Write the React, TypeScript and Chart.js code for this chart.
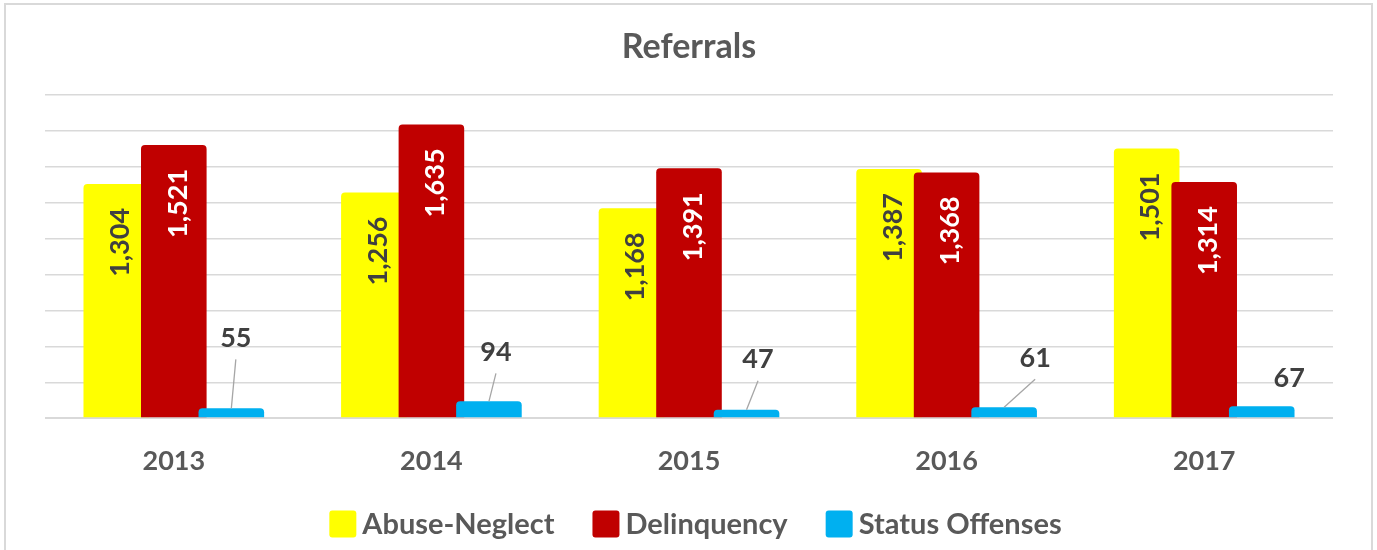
import React, { useEffect, useRef } from "react";
import { Chart, registerables } from "chart.js";

Chart.register(...registerables);

// ---- data ----
const categories = ["2013", "2014", "2015", "2016", "2017"];
const seriesNames = ["Abuse-Neglect", "Delinquency", "Status Offenses"];
const abuseNeglect = [1304, 1256, 1168, 1387, 1501];
const delinquency = [1521, 1635, 1391, 1368, 1314];
const statusOffenses = [55, 94, 47, 61, 67];
const yMax = 1800;
const yStep = 200;

// ---- style ----
const FONT = "Lato, 'Open Sans', sans-serif";
const colors = ["#FFFF00", "#C00000", "#00B0F0"];
const textGrey = "#595959";
const labelDark = "#404040";
// placement of the small "Status Offenses" labels relative to the bar top (dx, dy)
const statusLabelOffsets = [
  [4.5, -70],
  [7, -49],
  [11.5, -50],
  [31, -49],
  [27.5, -28],
];
const legendStyle = { centerShift: 7, y: 524, box: 27, boxGap: 6, itemGap: 38, fontSize: 29 };

const fmt = (v: number) => v.toLocaleString("en-US");

const drawPlugin = {
  id: "orderedDrawAndLabels",
  beforeDatasetsDraw(chart: any) {
    const metas = chart.getSortedVisibleDatasetMetas();
    for (const m of metas) m.controller.draw();
    return false;
  },
  afterDraw(chart: any) {
    const ctx = chart.ctx;
    const yScale = chart.scales.y;
    const area = chart.chartArea;
    ctx.save();
    // zero line over the bars
    const y0 = yScale.getPixelForValue(0);
    ctx.strokeStyle = "#d9d9d9";
    ctx.lineWidth = 1.5;
    ctx.beginPath();
    ctx.moveTo(area.left, y0);
    ctx.lineTo(area.right, y0);
    ctx.stroke();

    // rotated labels inside tall bars
    [0, 1].forEach((di) => {
      const meta = chart.getDatasetMeta(di);
      const values = chart.data.datasets[di].data as number[];
      meta.data.forEach((bar: any, i: number) => {
        const { x, y } = bar.getProps(["x", "y"], true);
        ctx.save();
        ctx.translate(x + 4, y + 24);
        ctx.rotate(-Math.PI / 2);
        ctx.font = `bold 27px ${FONT}`;
        ctx.fillStyle = di === 0 ? labelDark : "#ffffff";
        ctx.textAlign = "right";
        ctx.textBaseline = "middle";
        ctx.fillText(fmt(values[i]), 0, 0);
        ctx.restore();
      });
    });

    // status offenses labels with leader lines
    const meta = chart.getDatasetMeta(2);
    const values = chart.data.datasets[2].data as number[];
    meta.data.forEach((bar: any, i: number) => {
      const { x, y } = bar.getProps(["x", "y"], true);
      const [dx, dy] = statusLabelOffsets[i];
      const lx = x + dx;
      const ly = y + dy;
      if (dy < -35) {
        ctx.strokeStyle = "#a6a6a6";
        ctx.lineWidth = 1.3;
        ctx.beginPath();
        ctx.moveTo(lx, ly + 21);
        ctx.lineTo(x, y);
        ctx.stroke();
      }
      ctx.font = `bold 27px ${FONT}`;
      ctx.fillStyle = labelDark;
      ctx.textAlign = "center";
      ctx.textBaseline = "middle";
      ctx.fillText(fmt(values[i]), lx, ly);
    });

    // legend
    const ls = legendStyle;
    ctx.font = `bold ${ls.fontSize}px ${FONT}`;
    const items = chart.data.datasets.map((d: any) => ({
      text: d.label as string,
      color: d.backgroundColor as string,
      w: ctx.measureText(d.label).width,
    }));
    const total =
      items.reduce((s: number, it: any) => s + ls.box + ls.boxGap + it.w, 0) +
      ls.itemGap * (items.length - 1);
    let x = chart.width / 2 + ls.centerShift - total / 2;
    items.forEach((it: any) => {
      ctx.fillStyle = it.color;
      ctx.beginPath();
      ctx.roundRect(x, ls.y - ls.box / 2, ls.box, ls.box, 3);
      ctx.fill();
      x += ls.box + ls.boxGap;
      ctx.fillStyle = textGrey;
      ctx.textAlign = "left";
      ctx.textBaseline = "middle";
      ctx.fillText(it.text, x, ls.y + 1);
      x += it.w + ls.itemGap;
    });
    ctx.restore();
  },
};

export default function App() {
  const canvasRef = useRef<HTMLCanvasElement | null>(null);

  useEffect(() => {
    if (!canvasRef.current) return;
    const seriesData = [abuseNeglect, delinquency, statusOffenses];
    const chart = new Chart(canvasRef.current, {
      type: "bar",
      data: {
        labels: categories,
        datasets: seriesNames.map((name, k) => ({
          label: name,
          data: seriesData[k],
          backgroundColor: colors[k],
          borderColor: colors[k],
          borderWidth: 0,
          borderRadius: 4,
          borderSkipped: "start",
          categoryPercentage: 0.67,
          barPercentage: 1.14,
        })),
      },
      options: {
        animation: false,
        responsive: true,
        maintainAspectRatio: false,
        layout: { padding: { left: 45, right: 44, top: 0, bottom: 46 } },
        plugins: {
          title: {
            display: true,
            text: "Referrals",
            color: textGrey,
            font: { family: FONT, size: 34, weight: "bold", lineHeight: 1.2 },
            padding: { top: 27, bottom: 27 },
          },
          legend: { display: false },
          tooltip: { enabled: false },
        },
        scales: {
          x: {
            grid: { display: false, drawTicks: false },
            border: { display: false },
            ticks: {
              color: textGrey,
              font: { family: FONT, size: 27, weight: "bold", lineHeight: 1.4 },
              padding: 24,
              maxRotation: 0,
            },
          },
          y: {
            min: 0,
            max: yMax,
            ticks: { display: false, stepSize: yStep },
            grid: { color: "#d9d9d9", lineWidth: 1.5, drawTicks: false },
            border: { display: false },
          },
        },
      },
      plugins: [drawPlugin],
    } as any);
    return () => chart.destroy();
  }, []);

  return (
    <div
      style={{
        position: "fixed",
        left: 0,
        top: 0,
        width: 1377,
        height: 550,
        overflow: "hidden",
        background: "#ffffff",
      }}
    >
      <div
        style={{
          position: "absolute",
          left: 4,
          top: 3,
          width: 1369,
          height: 620,
          boxSizing: "border-box",
          border: "2px solid #d9d9d9",
        }}
      />
      <div style={{ position: "absolute", left: 0, top: 0, width: 1377, height: 550 }}>
        <canvas ref={canvasRef} />
      </div>
    </div>
  );
}
